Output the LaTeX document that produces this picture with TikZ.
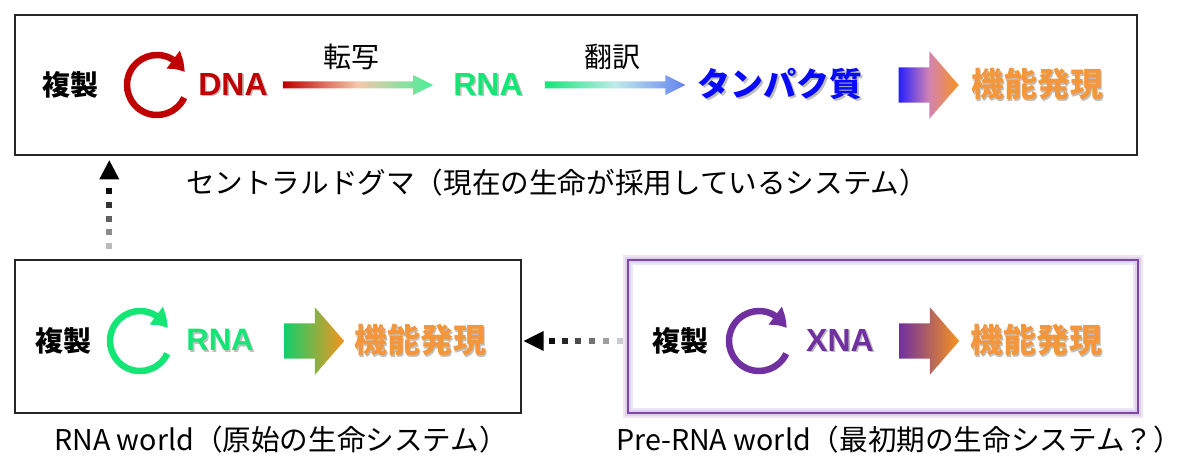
\documentclass[tikz,border=0pt]{standalone}
\usepackage{fontspec}
\newfontfamily\jp{Noto Sans CJK JP}
\newfontfamily\ars{Liberation Sans}
\usetikzlibrary{calc,shapes.arrows,arrows.meta,bending}
\definecolor{dnared}{RGB}{192,0,0}
\definecolor{rnagreen}{RGB}{20,230,118}
\definecolor{rnalight}{RGB}{70,240,150}
\definecolor{peach}{RGB}{245,200,170}
\definecolor{protblue}{RGB}{10,10,250}
\definecolor{bluelight}{RGB}{100,130,240}
\definecolor{palecyan}{RGB}{190,235,235}
\definecolor{funcorange}{RGB}{243,150,60}
\definecolor{arrorange}{RGB}{247,148,30}
\definecolor{arrblue}{RGB}{40,30,255}
\definecolor{pinkmid}{RGB}{210,130,180}
\definecolor{xnapurple}{RGB}{112,48,160}
% text with a soft drop shadow
\newcommand\shd[1]{\leavevmode\rlap{\kern1.6pt\raisebox{-1.6pt}{\color{black!25}#1}}#1}

\begin{document}
\begin{tikzpicture}[x=1pt,y=1pt,
    txt/.style={inner sep=0pt},
    jpn/.style={txt,font=\jp\bfseries\fontsize{28}{30}\selectfont},
    lbl/.style={txt,font=\jp\fontsize{28}{30}\selectfont},
    caption/.style={txt,font=\jp\fontsize{28.6}{31}\selectfont},
    acid/.style={txt,font=\ars\bfseries\fontsize{32}{34}\selectfont},
    big/.style={txt,font=\jp\bfseries\fontsize{33}{35}\selectfont},
    frame/.style={draw=black!85,line width=1.4pt},
    glowframe/.style={draw=xnapurple!90,line width=2.6pt,
      preaction={draw=xnapurple!12,line width=10pt},
      preaction={draw=xnapurple!22,line width=6pt}},
    cycarrow/.style={line width=6.5pt,-{Triangle[width=21pt,length=17pt,bend]}},
    blockarrow/.style={single arrow,inner xsep=0pt,inner ysep=17.5pt,
      single arrow head extend=16pt,single arrow tip angle=98,minimum height=60pt}]
  \useasboundingbox (0,0) rectangle (1200,467);

  % frames
  \node[frame,minimum width=1122pt,minimum height=140pt] (cdbox) at (576,382) {};
  \node[frame,minimum width=506pt,minimum height=153pt] (rwbox) at (268,130.5) {};
  \node[glowframe,minimum width=510pt,minimum height=153pt] (pwbox) at (883,130.5) {};

  % central dogma
  \node[jpn] (rep1) at (70,382) {複製};
  \draw[cycarrow,dnared] ($(157,382)+(-25:30)$) arc[start angle=-25,end angle=-335,radius=30];
  \node[acid,text=dnared] (dna) at (233,382) {\shd{DNA}};
  \node[acid,text=rnagreen] (rna1) at (488,382) {\shd{RNA}};
  \node[big,text=protblue] (prot) at (780,382) {\shd{タンパク質}};
  \node[big,text=funcorange] (func1) at (1037,382) {\shd{機能発現}};
  \node[lbl] (trans) at (351,410) {転写};
  \node[lbl] (transl) at (612,410) {翻訳};
  \shade[left color=dnared,right color=rnalight,middle color=peach]
    let \p1=($(dna.east)+(15,0)$), \p2=($(rna1.west)+(-20,0)$) in
    (\x1,\y1+3.5pt) -- (\x2-20pt,\y1+3.5pt) -- (\x2-20pt,\y1+10pt) -- (\x2,\y1)
    -- (\x2-20pt,\y1-10pt) -- (\x2-20pt,\y1-3.5pt) -- (\x1,\y1-3.5pt) -- cycle;
  \shade[left color=rnagreen,right color=bluelight,middle color=palecyan]
    let \p1=($(rna1.east)+(22,0)$), \p2=($(prot.west)+(-12,0)$) in
    (\x1,\y1+3.5pt) -- (\x2-20pt,\y1+3.5pt) -- (\x2-20pt,\y1+10pt) -- (\x2,\y1)
    -- (\x2-20pt,\y1-10pt) -- (\x2-20pt,\y1-3.5pt) -- (\x1,\y1-3.5pt) -- cycle;
  \node[blockarrow,left color=arrblue,right color=arrorange,middle color=pinkmid] (fa1) at (921,382) {};
  \node[caption] (cap1) at (557,284) {セントラルドグマ（現在の生命が採用しているシステム）};

  % RNA world
  \node[jpn] (rep2) at (63,126) {複製};
  \draw[cycarrow,rnagreen] ($(140,126)+(-25:30)$) arc[start angle=-25,end angle=-335,radius=30];
  \node[acid,text=rnagreen,font=\ars\bfseries\fontsize{31}{33}\selectfont] (rna2) at (220,126) {\shd{RNA}};
  \node[blockarrow,left color=rnagreen!90!black,right color=arrorange] (fa2) at (306.5,126) {};
  \node[big,text=funcorange] (func2) at (420,126) {\shd{機能発現}};
  \node[caption] (cap2) at (281,27) {RNA world（原始の生命システム）};

  % Pre-RNA world
  \node[jpn] (rep3) at (680,126) {複製};
  \draw[cycarrow,xnapurple] ($(759,126)+(-25:30)$) arc[start angle=-25,end angle=-335,radius=30];
  \node[acid,text=xnapurple] (xna) at (840,126) {\shd{XNA}};
  \node[blockarrow,left color=xnapurple,right color=arrorange] (fa3) at (921.5,126) {};
  \node[big,text=funcorange] (func3) at (1036,126) {\shd{機能発現}};
  \node[caption] (cap3) at (899,27) {Pre-RNA world（最初期の生命システム？）};

  % evolution arrows
  \coordinate (va) at ($(rwbox.north west)+(95,0)$);
  \foreach \d/\g in {13/27,27/45,40/62,54/80,68/95}
    \fill[black!\g] ($(va)+(-3,\d-3)$) rectangle ($(va)+(3,\d+3)$);
  \fill ($(va)+(-10,80)$) -- ($(va)+(10,80)$) -- ($(va)+(0,99)$) -- cycle;
  \coordinate (ha) at ($(pwbox.west)+(0,-4.5)$);
  \foreach \d/\g in {7/20,21/38,35/55,49/70,62/85,75/95}
    \fill[black!\g] ($(ha)+(-\d-3,-3)$) rectangle ($(ha)+(-\d+3,3)$);
  \fill ($(ha)+(-83,10)$) -- ($(ha)+(-83,-10)$) -- ($(ha)+(-103,0)$) -- cycle;
\end{tikzpicture}
\end{document}
